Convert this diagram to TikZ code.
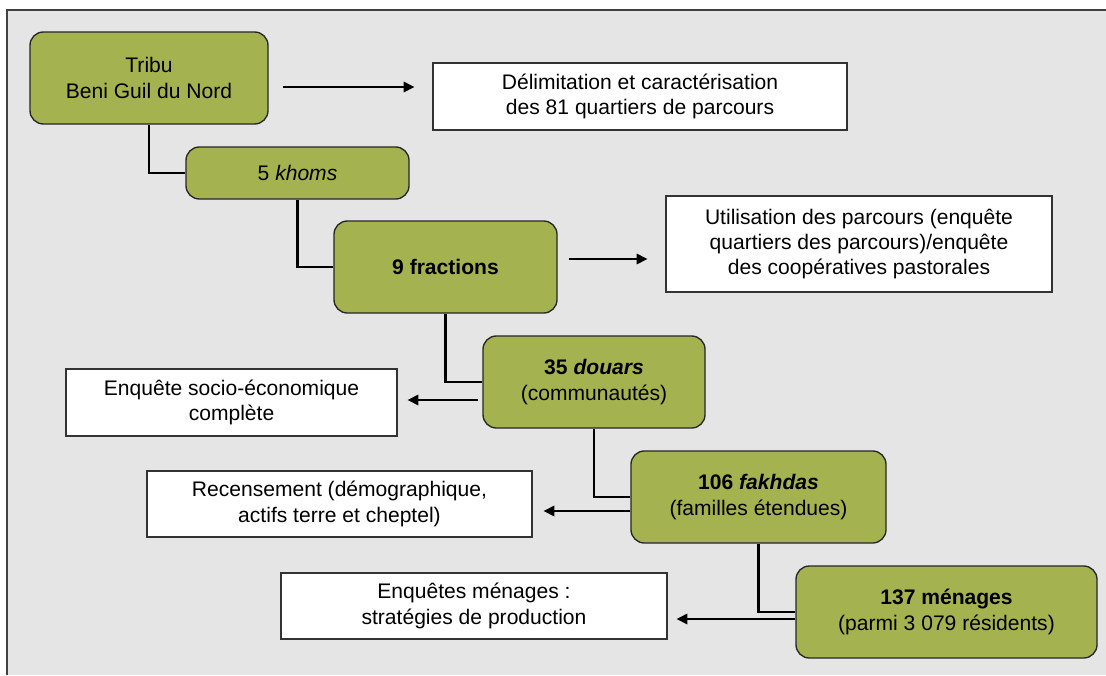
\documentclass[tikz,border=0pt]{standalone}
\usepackage{fontspec}
\setmainfont{Liberation Sans}
\usetikzlibrary{positioning,calc,arrows.meta}

\definecolor{levelgreen}{HTML}{A4B250}
\definecolor{panelgray}{HTML}{E5E5E5}

\begin{document}
\begin{tikzpicture}[x=0.75pt, y=-0.75pt,
	every node/.style={align=center, inner sep=1pt, font=\fontsize{15.8}{19}\selectfont},
	level/.style={draw=black!85, fill=levelgreen, rounded corners=10pt, line width=1pt},
	survey/.style={draw=black!80, fill=white, line width=1pt},
	sz/.style 2 args={minimum width=#1*0.75pt, minimum height=#2*0.75pt},
	link/.style={line width=2pt},
	arr/.style={-{Triangle[length=8pt,width=8pt]}, line width=0.9pt}]
	\useasboundingbox (0,0) rectangle (1106,675);
	\fill[panelgray] (7,10) rectangle (1106,675);
	\draw[line width=1.2pt, black!75] (7,675) -- (7,10) -- (1106,10);

	% levels
	\node[level, sz={238}{92}] (tribu) at (149,78) {Tribu\\Beni Guil du Nord};
	\node[level, sz={223}{52}] (khoms) at (297.5,173) {5 \textit{khoms}};
	\node[level, sz={223}{92}] (frac) at (445.5,267) {\textbf{9 fractions}};
	\node[level, sz={222}{92}] (douar) at (594,382) {\textbf{35 \textit{douars}}\\(communautés)};
	\node[level, sz={255}{92}] (fakh) at (758.5,497) {\textbf{106 \textit{fakhdas}}\\(familles étendues)};
	\node[level, sz={301}{92}] (menag) at (946.5,612) {\textbf{137 ménages}\\(parmi 3 079 résidents)};

	% surveys
	\node[survey, sz={414}{67}] (delim) at (640,96.5) {Délimitation et caractérisation\\des 81 quartiers de parcours};
	\node[survey, sz={386}{96}] (util) at (859,244) {Utilisation des parcours (enquête\\quartiers des parcours)/enquête\\des coopératives pastorales};
	\node[survey, sz={331}{67}] (socio) at (231.5,402.5) {Enquête socio-économique\\complète};
	\node[survey, sz={385}{66}] (recens) at (339.5,504) {Recensement (démographique,\\actifs terre et cheptel)};
	\node[survey, sz={386}{66}] (enqmen) at (474,606) {Enquêtes ménages :\\stratégies de production};

	\draw[link] (tribu.south) |- (khoms.west);
	\draw[link] (khoms.south) |- (frac.west);
	\draw[link] (frac.south) |- (douar.west);
	\draw[link] (douar.south) |- (fakh.west);
	\draw[link] (fakh.south) |- (menag.west);

	\coordinate (a1) at ($(tribu.east)+(0,9)$);
	\coordinate (a2) at ($(frac.east)+(0,-8)$);
	\coordinate (a3) at ($(douar.west)+(0,18)$);
	\coordinate (a4) at ($(fakh.west)+(0,14)$);
	\coordinate (a5) at ($(menag.west)+(0,7)$);
	\draw[arr, shorten <=10.5pt, shorten >=13.5pt] (a1) -- (a1 -| delim.west);
	\draw[arr, shorten <=8.25pt, shorten >=13.5pt] (a2) -- (a2 -| util.west);
	\draw[arr, shorten <=3pt, shorten >=7.5pt] (a3) -- (a3 -| socio.east);
	\draw[arr, shorten >=8.25pt] (a4) -- (a4 -| recens.east);
	\draw[arr, shorten >=6.75pt] (a5) -- (a5 -| enqmen.east);
\end{tikzpicture}
\end{document}
